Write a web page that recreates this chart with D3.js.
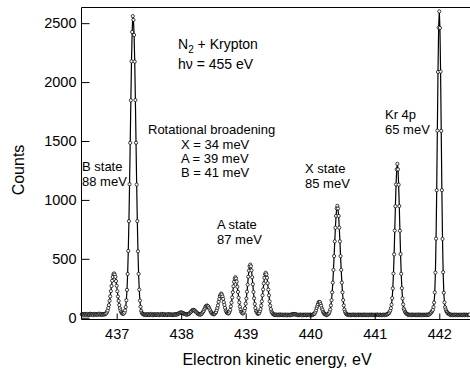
<!DOCTYPE html>
<html>
<head>
<meta charset="utf-8">
<script src="https://cdn.jsdelivr.net/npm/d3@7"></script>
<style>
  body { margin: 0; background: #fff; }
  svg { display: block; }
  text { font-family: "Liberation Sans", Arial, Helvetica, sans-serif; fill: #000; }
</style>
</head>
<body>
<svg id="chart" width="470" height="371"></svg>
<script>
// Photoelectron spectrum, N2 + Kr, sampled every 10 meV from 436.46 eV
const eStart = 436.46;
const eStep = 0.01;
const counts = [
  // 436.46 – 436.80
  30, 26, 31, 27, 24, 33, 29, 25, 28, 32, 26, 23, 30, 34, 27, 25, 31, 28, 22, 29,
  33, 26, 30, 27, 24, 31, 29, 35, 26, 28, 32, 27, 25, 30, 29,
  // B state
  29, 30, 36, 38, 51, 62, 83, 107, 144, 181, 226, 269, 314, 346, 369, 376, 366, 347, 311, 271,
  225, 180, 143, 108, 81, 62, 48, 39,
  // strong line near 437.25
  34, 34, 35, 44, 62, 91, 148, 236, 371, 567, 819, 1133, 1484, 1845, 2176, 2425, 2560, 2528, 2400, 2174,
  1847, 1485, 1130, 820, 564, 372, 238, 146, 93, 58, 42, 33, 31, 25,
  // 437.43 – 437.85
  28, 24, 30, 26, 22, 27, 31, 25, 23, 29, 26, 32, 24, 21, 28, 27, 30, 25, 23, 26,
  31, 28, 24, 22, 27, 29, 25, 33, 26, 23, 28, 30, 24, 27, 25, 22, 29, 31, 26, 24, 28, 27, 25,
  // A state progression
  26, 23, 28, 25, 30, 25, 29, 26, 32, 32, 38, 37, 42, 45, 42, 44, 41, 36, 37, 32,
  33, 29, 26, 30, 27, 31, 32, 40, 43, 50, 54, 63, 64, 67, 63, 61, 53, 51, 43, 37,
  35, 28, 31, 29, 26, 32, 35, 44, 50, 59, 73, 84, 97, 100, 104, 99, 96, 84, 71, 62,
  47, 44, 36, 31, 31, 29, 34, 41, 48, 64, 83, 105, 135, 159, 183, 196, 205, 197, 180, 160,
  132, 109, 83, 61, 51, 40, 39, 36, 39, 52, 67, 96, 128, 172, 216, 267, 305, 332, 344, 333,
  307, 263, 219, 170, 130, 94, 69, 50, 43, 37, 37, 47, 60, 81, 119, 163, 221, 281, 348, 400,
  436, 451, 437, 402, 344, 284, 219, 165, 117, 83, 58, 47, 37, 33, 36, 39, 55, 73, 103, 139,
  190, 240, 291, 339, 369, 382, 368, 339, 293, 238, 190, 139, 103, 73, 51, 43, 32, 30, 24, 26,
  // 439.46 – 439.95
  23, 27, 24, 21, 26, 25, 22, 28, 24, 23, 26, 24, 21, 25, 23, 27, 22, 24, 20, 26,
  23, 25, 21, 24, 27, 24, 27, 31, 29, 32, 28, 31, 27, 24, 26, 21, 24, 22, 25, 27,
  23, 20, 24, 26, 22, 25, 23, 27, 21, 24,
  // satellite and X state
  26, 23, 25, 22, 27, 24, 21, 25, 25, 30, 32, 37, 50, 63, 83, 100, 115, 131, 134, 132,
  116, 101, 79, 66, 49, 40, 31, 30, 26, 23, 27, 27, 33, 38, 51, 70, 104, 149, 216, 298,
  406, 523, 648, 764, 864, 927, 950, 927, 864, 764, 648, 523, 406, 298, 216, 149, 104, 70, 51, 38,
  29, 30, 25, 25, 22,
  // 440.61 – 441.17
  26, 24, 21, 25, 23, 27, 24, 22, 26, 23, 25, 21, 24, 27, 22, 25, 23, 26, 24, 21,
  25, 23, 27, 24, 22, 26, 23, 25, 24, 21, 26, 23, 25, 22, 27, 24, 23, 25, 21, 26,
  24, 22, 25, 27, 23, 24, 22, 26, 25, 23, 21, 25, 24, 26, 22, 25, 24,
  // Kr 4p1/2
  25, 30, 31, 36, 39, 51, 61, 81, 111, 166, 249, 375, 538, 740, 946, 1131, 1258, 1306, 1259, 1129,
  948, 738, 540, 373, 251, 164, 113, 78, 63, 49, 42, 34, 33, 28, 24,
  // 441.53 – 441.82
  25, 23, 26, 21, 24, 27, 22, 25, 23, 26, 24, 21, 25, 23, 27, 24, 22, 26, 23, 25,
  21, 24, 26, 22, 25, 24, 23, 27, 22, 25,
  // Kr 4p3/2
  26, 26, 32, 34, 42, 47, 57, 67, 91, 129, 215, 383, 671, 1082, 1588, 2086, 2462, 2600, 2460, 2089,
  1586, 1083, 669, 386, 212, 130, 89, 70, 55, 48, 38, 37, 31, 27, 27,
  // 442.18 – 442.47
  22, 26, 24, 21, 25, 23, 27, 22, 24, 26, 23, 21, 25, 24, 22, 26, 23, 25, 21, 24,
  27, 22, 25, 23, 26, 24, 21, 25, 23, 26
];

const xTicks = [437, 438, 439, 440, 441, 442];
const yTicks = [0, 500, 1000, 1500, 2000, 2500];
const xDomain = [436.455, 442.476];
const yDomain = [-15, 2633];

const titleLines = ["N2 + Krypton", "h\u03BD = 455 eV"];
const broadeningLines = ["Rotational broadening", "X = 34 meV", "A = 39 meV", "B = 41 meV"];
const peakLabels = [
  { lines: ["B state", "88 meV"] },
  { lines: ["A state", "87 meV"] },
  { lines: ["X state", "85 meV"] },
  { lines: ["Kr 4p", "65 meV"] }
];

const data = counts.map((c, i) => ({ e: eStart + i * eStep, c }));

const svg = d3.select("#chart");
const L = 81.5, R = 470, T = 7.5, B = 319.5;

const x = d3.scaleLinear().domain(xDomain).range([L, R]);
const y = d3.scaleLinear().domain(yDomain).range([B, T]);

// spectrum: connecting line, then open circles at every sample
const line = d3.line().x(d => x(d.e)).y(d => y(d.c));
svg.append("path")
  .datum(data)
  .attr("d", line)
  .attr("fill", "none")
  .attr("stroke", "#000")
  .attr("stroke-width", 1.2)
  .attr("stroke-linejoin", "round");

svg.append("g")
  .selectAll("circle")
  .data(data)
  .join("circle")
  .attr("cx", d => x(d.e))
  .attr("cy", d => y(d.c))
  .attr("r", 1.6)
  .attr("fill", "#fff")
  .attr("stroke", "#000")
  .attr("stroke-width", 0.75);

// axes with inward ticks
const xAxis = d3.axisBottom(x).tickValues(xTicks).tickFormat(d3.format("d"))
  .tickSizeInner(-6).tickSizeOuter(0).tickPadding(9);
const yAxis = d3.axisLeft(y).tickValues(yTicks).tickFormat(d3.format("d"))
  .tickSizeInner(-8).tickSizeOuter(0).tickPadding(5);

const gx = svg.append("g").attr("transform", `translate(0,${B})`).call(xAxis);
const gy = svg.append("g").attr("transform", `translate(${L},0)`).call(yAxis);
[gx, gy].forEach(g => {
  g.select(".domain").remove();
  g.selectAll(".tick line").attr("stroke", "#000").attr("stroke-width", 1);
  g.selectAll(".tick text")
    .attr("font-family", "'Liberation Sans', Arial, sans-serif")
    .attr("font-size", 14.5)
    .attr("fill", "#000");
});

// frame: left, bottom and top edges
svg.append("path")
  .attr("d", `M${R},${T}H${L}V${B}H${R}`)
  .attr("fill", "none")
  .attr("stroke", "#000")
  .attr("stroke-width", 1);

// axis titles
svg.append("text")
  .attr("transform", "translate(24,170) rotate(-90)")
  .attr("text-anchor", "middle")
  .attr("font-size", 16)
  .text("Counts");

svg.append("text")
  .attr("x", 277).attr("y", 365)
  .attr("text-anchor", "middle")
  .attr("font-size", 16)
  .text("Electron kinetic energy, eV");

// title block
const t1 = svg.append("text").attr("x", 178).attr("y", 49).attr("font-size", 14);
t1.append("tspan").text(titleLines[0].slice(0, 1));
t1.append("tspan").attr("font-size", 10).attr("dy", 4).text(titleLines[0].slice(1, 2));
t1.append("tspan").attr("dy", -4).text(titleLines[0].slice(2));
svg.append("text").attr("x", 178).attr("y", 69).attr("font-size", 14).text(titleLines[1]);

// rotational broadening block
const rbPos = [[148, 134], [181, 149], [181, 163], [181, 177]];
broadeningLines.forEach((s, i) => {
  svg.append("text")
    .attr("x", rbPos[i][0]).attr("y", rbPos[i][1])
    .attr("font-size", 13)
    .text(s);
});

// peak labels
const labelPos = [[82, 171], [217, 229], [305, 173], [385, 119]];
peakLabels.forEach((p, i) => {
  p.lines.forEach((s, j) => {
    svg.append("text")
      .attr("x", labelPos[i][0])
      .attr("y", labelPos[i][1] + j * 14.5)
      .attr("font-size", 13)
      .text(s);
  });
});
</script>
</body>
</html>
